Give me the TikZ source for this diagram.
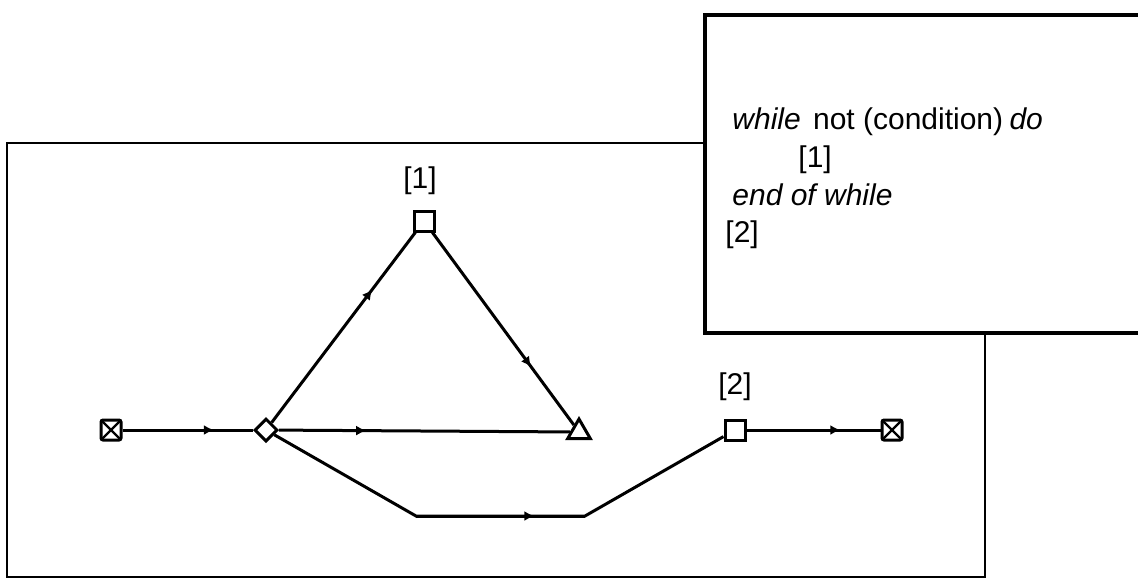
\documentclass[tikz,border=0pt]{standalone}
\usepackage{fontspec}
\setmainfont{Liberation Sans}
\usetikzlibrary{shapes.geometric,arrows.meta,decorations.markings}

\tikzset{
  flowline/.style={line width=1.5pt,postaction={decorate},
    decoration={markings,mark=at position #1 with {\arrow{Latex[length=5pt,width=5pt]}}}},
  flowline/.default=0.7,
  endmark/.style={draw,line width=1.5pt,rounded corners=1pt,minimum size=10pt,inner sep=0pt,
    path picture={\draw[line width=1.2pt] (path picture bounding box.north west) -- (path picture bounding box.south east)
      (path picture bounding box.north east) -- (path picture bounding box.south west);}},
  blockbox/.style={draw,fill=white,line width=1.5pt,minimum size=10pt,inner sep=0pt},
  decision/.style={diamond,draw,fill=white,line width=1.5pt,minimum size=11.5pt,inner sep=0pt},
  junction/.style={regular polygon,regular polygon sides=3,draw,fill=white,line width=1.5pt,minimum size=13pt,inner sep=0pt},
  tag/.style={font=\fontsize{15}{18}\selectfont},
  codeline/.style={anchor=base west,inner sep=0pt,font=\fontsize{15}{18}\selectfont}
}

\begin{document}
\begin{tikzpicture}[x=0.5pt,y=-0.5pt]
\useasboundingbox (0,0) rectangle (1138,579);
% frames
\draw[line width=1pt] (7,143) rectangle (985,577);
\draw[line width=2pt,fill=white] (705,15) rectangle (1160,333);
% pseudo code
\node[codeline] (while) at (732,129) {\textit{while}\hspace{2pt} not (condition)\hspace{-1pt} \textit{do}};
\node[codeline] (body) at (798,167) {[1]};
\node[codeline] (endwhile) at (732,205) {\textit{end of while}};
\node[codeline] (next) at (725,242) {[2]};
% graph
\node[endmark] (start) at (111,430) {};
\node[decision] (dia) at (266,430) {};
\node[blockbox] (sq1) at (424,221) {};
\node[junction] (tri) at (579,432) {};
\node[blockbox] (sq2) at (735,430) {};
\node[endmark] (stop) at (892,430) {};
\node[tag] (tag1) at (420,181) {[1]};
\node[tag] (tag2) at (735,387) {[2]};
\coordinate (b1) at (416,516);
\coordinate (b2) at (585,516);
\draw[flowline] (start) -- (dia);
\draw[flowline] (dia) -- (sq1);
\draw[flowline] (sq1) -- (tri);
\draw[flowline=0.3] (dia) -- (tri);
\draw[line width=1.5pt] (dia) -- (b1) -- (b2) -- (sq2);
\draw[flowline] (b1) -- (b2);
\draw[flowline] (sq2) -- (stop);
\end{tikzpicture}
\end{document}
